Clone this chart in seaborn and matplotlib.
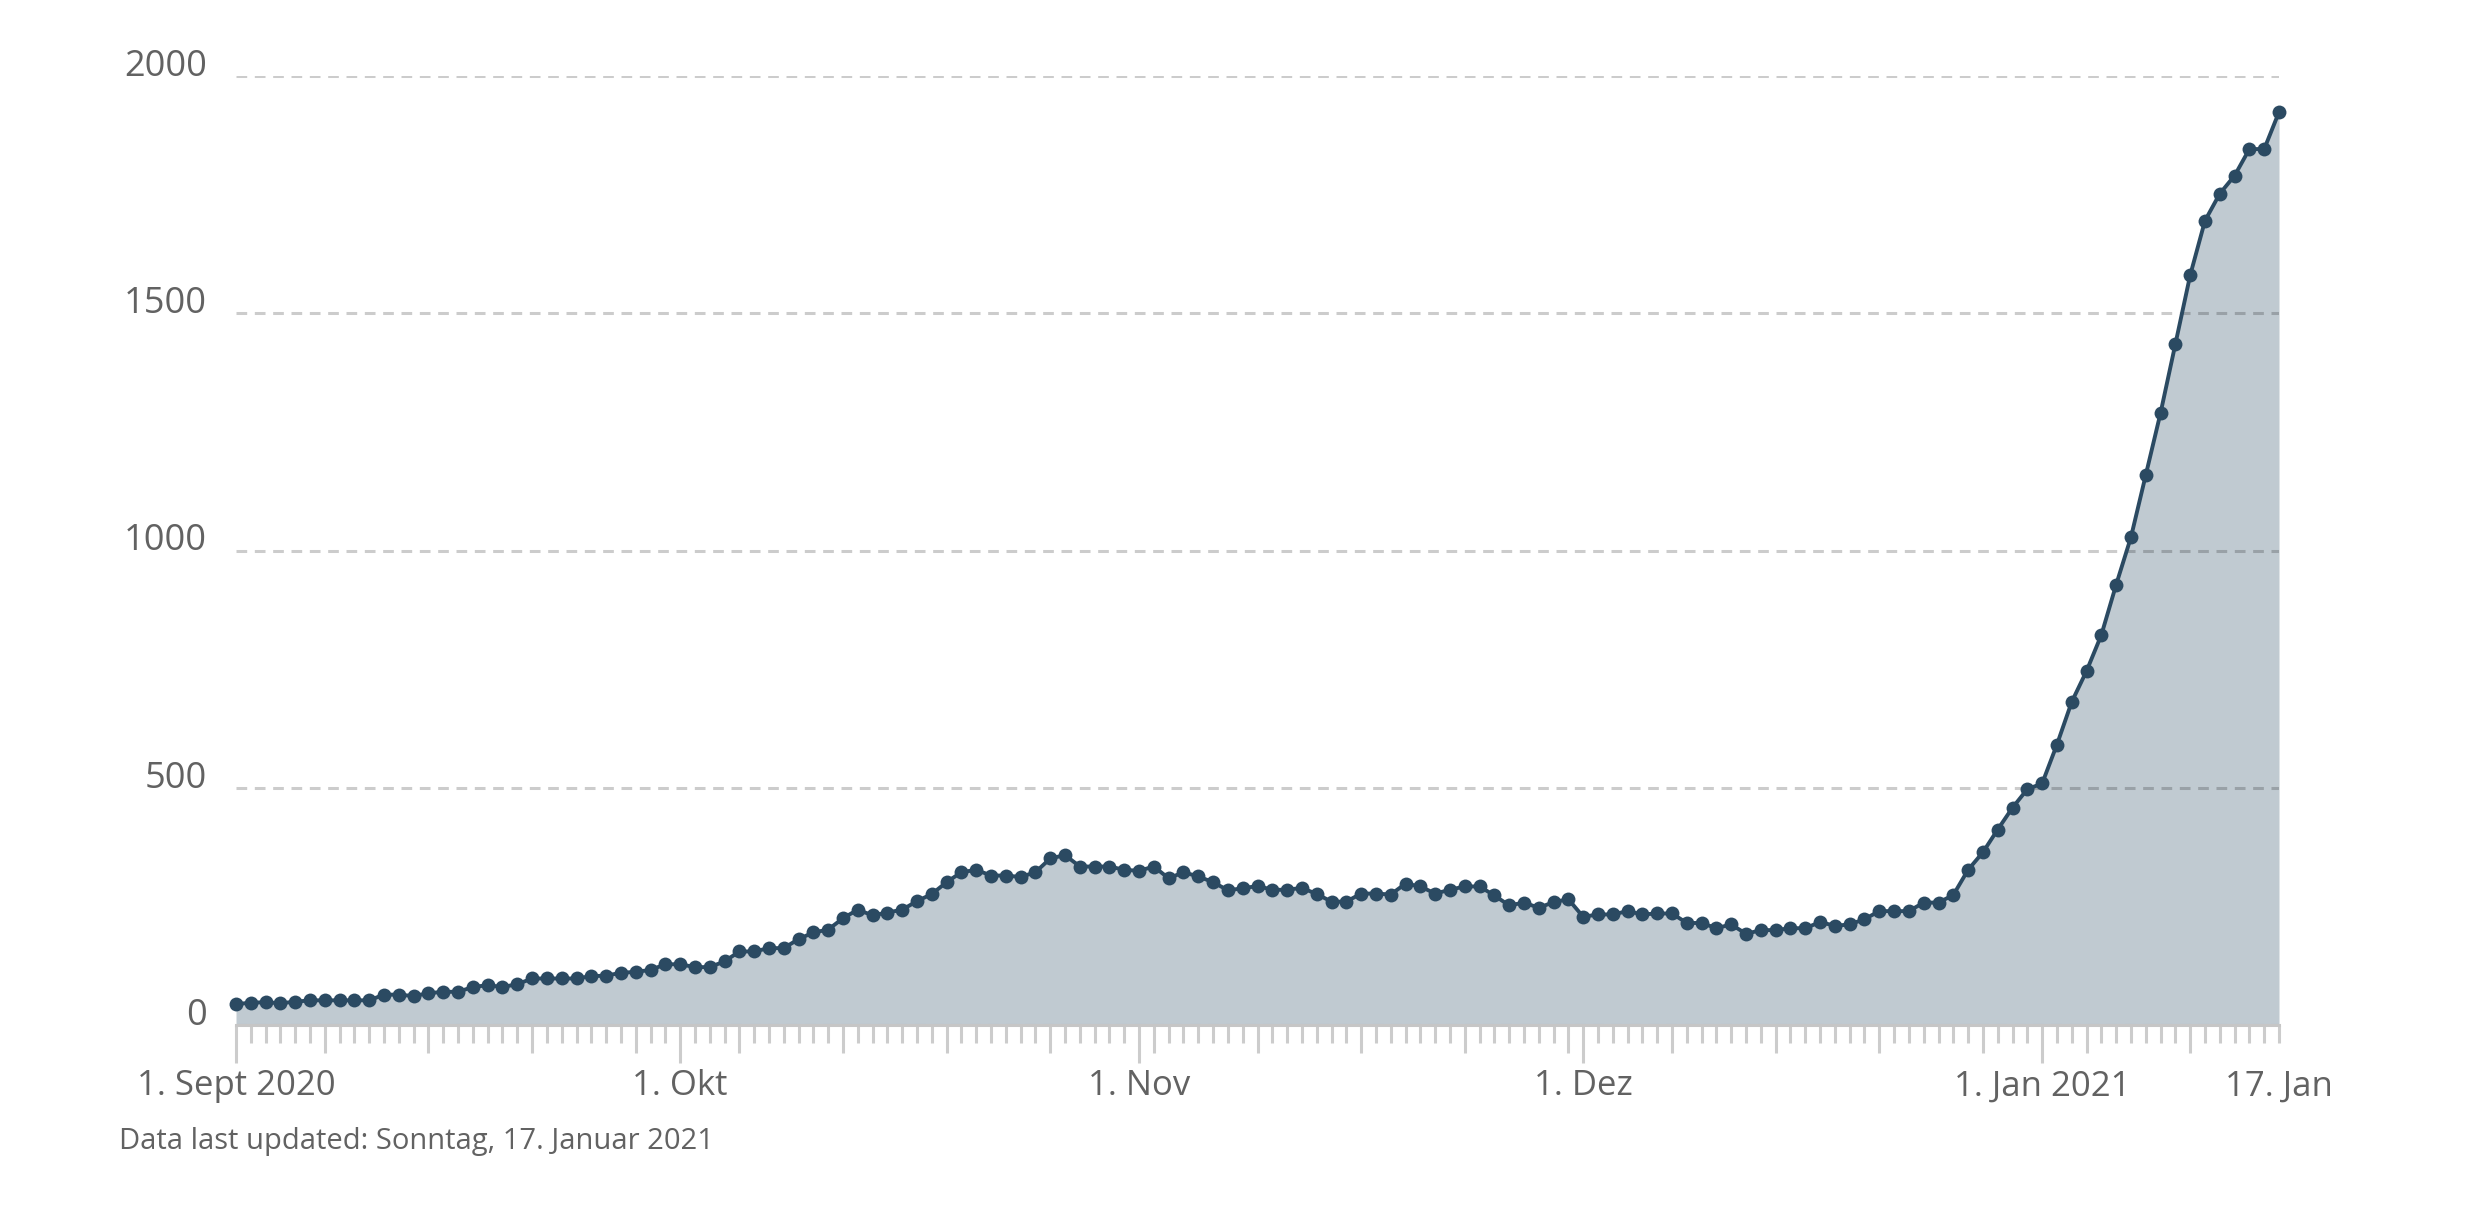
import matplotlib
matplotlib.use("Agg")
import matplotlib.pyplot as plt
import seaborn as sns
import pandas as pd

# ---- data ----
start_date = "2020-09-01"
values = [
    44, 47, 48, 46, 49, 52, 52, 52, 52, 52,
    64, 64, 61, 67, 70, 70, 80, 84, 80, 86,
    98, 98, 98, 98, 103, 104, 110, 112, 116, 128,
    128, 122, 122, 134, 155, 155, 162, 162, 181, 195,
    201, 225, 243, 231, 237, 243, 261, 276, 301, 322,
    327, 315, 315, 312, 322, 351, 358, 334, 334, 334,
    327, 325, 334, 309, 322, 313, 301, 284, 288, 293,
    285, 285, 289, 276, 260, 260, 277, 277, 275, 298,
    292, 277, 285, 292, 292, 273, 252, 258, 247, 259,
    265, 228, 233, 233, 240, 233, 235, 235, 215, 215,
    204, 212, 192, 200, 200, 204, 204, 217, 209, 212,
    223, 240, 240, 240, 258, 258, 274, 327, 364, 412,
    458, 497, 509, 591, 681, 746, 822, 928, 1028, 1159,
    1290, 1435, 1580, 1695, 1752, 1790, 1846, 1846, 1924,
]
x_tick_dates = ["2020-09-01", "2020-10-01", "2020-11-01", "2020-12-01", "2021-01-01", "2021-01-17"]
x_tick_labels = ["1. Sept 2020", "1. Okt", "1. Nov", "1. Dez", "1. Jan 2021", "17. Jan"]
y_ticks = [0, 500, 1000, 1500, 2000]
footer = "Data last updated: Sonntag, 17. Januar 2021"

dates = pd.date_range(start_date, periods=len(values), freq="D")
df = pd.DataFrame({"date": dates, "value": values})

sns.set_theme(style="white")
plt.rcParams["font.family"] = ["Open Sans", "DejaVu Sans"]

LINE = "#2b4a62"
FILL = "#c0cad1"
GREY = "#cccccc"
TXT = "#626262"

fig = plt.figure(figsize=(24.8, 12.17), dpi=100)
ax = fig.add_axes([236 / 2480, 1 - 1025 / 1217, (2279 - 236) / 2480, (1025 - 76) / 1217])

ax.fill_between(df["date"], df["value"], 0, color=FILL, linewidth=0, zorder=1)
sns.lineplot(data=df, x="date", y="value", ax=ax, color=LINE, linewidth=2.8,
             marker="o", markersize=10, markeredgewidth=0, zorder=3, clip_on=False)

ax.set_xlim(dates[0], dates[-1])
ax.set_ylim(0, 2000)
ax.set_xlabel("")
ax.set_ylabel("")

# y axis
ax.set_yticks(y_ticks)
ax.set_yticklabels([str(v) for v in y_ticks])
ax.tick_params(axis="y", left=False, length=0, pad=21, labelsize=26, labelcolor=TXT)
for lab in ax.get_yticklabels():
    lab.set_va("baseline")
ax.set_axisbelow(False)
ax.yaxis.grid(True, color="black", alpha=0.2, linewidth=2.2, linestyle=(0, (3.5, 2.5)))
ax.xaxis.grid(False)

# spines
for s in ["top", "right", "left"]:
    ax.spines[s].set_visible(False)
ax.spines["bottom"].set_color("#c6c6c6")
ax.spines["bottom"].set_linewidth(2.2)
ax.spines["bottom"].set_zorder(2.6)

# x axis ticks: month starts (long, labelled), Mondays (medium), days (short)
month_ticks = pd.to_datetime(x_tick_dates)
label_map = dict(zip(month_ticks, x_tick_labels))
week_ticks = pd.date_range(dates[0], dates[-1], freq="W-MON")
major_locs = sorted(set(month_ticks) | set(week_ticks))
ax.set_xticks(major_locs)
ax.set_xticklabels([label_map.get(d, "") for d in major_locs])
ax.set_xticks(dates, minor=True)
ax.tick_params(axis="x", which="major", bottom=True, direction="out", length=27, width=2.2,
               color=GREY, labelsize=25, labelcolor=TXT, pad=5)
ax.tick_params(axis="x", which="minor", bottom=True, direction="out", length=13, width=2.2,
               color=GREY)
for d, tick in zip(major_locs, ax.xaxis.get_major_ticks()):
    if d == month_ticks[-1]:
        tick.tick1line.set_markersize(13)
    elif d not in label_map:
        tick.tick1line.set_markersize(20)

fig.text(119 / 2480, 1 - 1142 / 1217, footer, fontsize=21, color=TXT, va="center", ha="left")

fig.savefig("out.png", dpi=100, facecolor="white")
